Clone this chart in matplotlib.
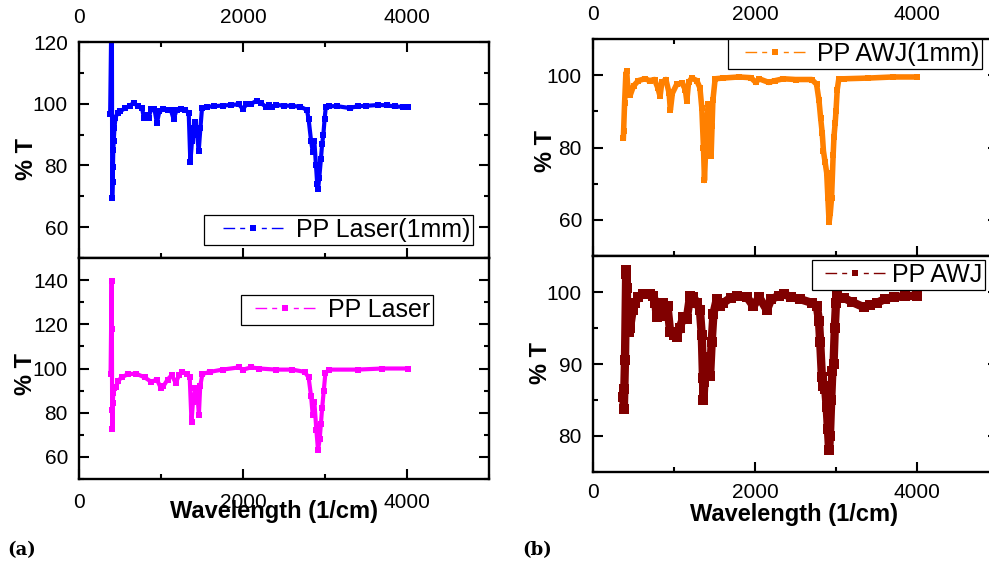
import matplotlib
matplotlib.use('Agg')
import matplotlib.pyplot as plt
from matplotlib.lines import Line2D
from matplotlib.legend_handler import HandlerLine2D
from matplotlib.ticker import MultipleLocator

plt.rcParams['font.family'] = ['Liberation Sans', 'DejaVu Sans']
plt.rcParams['lines.scale_dashes'] = False

# ---------------- data ----------------
laser1_wn = [380, 400, 405, 410, 414, 418, 424, 432, 445, 470, 500, 560, 620, 665, 720, 770, 790, 820, 848,
             880, 920, 950, 980, 1030, 1080, 1120, 1154, 1190, 1240, 1297, 1338, 1358, 1378, 1399, 1420, 1440,
             1460, 1480, 1500, 1562, 1650, 1750, 1850, 1950, 2000, 2040, 2100, 2170, 2220, 2280, 2320, 2350,
             2400, 2500, 2600, 2700, 2780, 2800, 2830, 2850, 2870, 2890, 2905, 2915, 2930, 2950, 2965, 2980,
             2995, 3010, 3050, 3150, 3300, 3400, 3500, 3650, 3750, 3850, 3950, 4010]
laser1_T = [96.8, 140, 69.5, 74.5, 79.5, 85, 88, 92, 95.5, 97, 97.5, 98.5, 99.3, 100.3, 99.2, 98.5, 95.5, 96.5, 95.5,
            98.2, 98.3, 93.7, 97.5, 98.2, 98, 98, 95, 98, 98.3, 98, 97, 81, 88, 92, 94, 90,
            84.7, 92, 98.5, 99, 99.2, 99.4, 99.6, 99.8, 98.2, 99.8, 100, 101, 100.2, 99, 99.6, 99,
            99.6, 99.4, 99.3, 99, 98, 95, 88, 84.5, 88, 80, 74, 72.2, 76, 82, 87, 90,
            95, 99, 99.2, 99.2, 98.6, 99.2, 99.3, 99.6, 99.5, 99.1, 99, 99]

laser_wn = [385, 398, 401, 404, 408, 412, 418, 430, 450, 480, 520, 600, 700, 800, 880, 950, 1000, 1030, 1080,
            1130, 1180, 1220, 1260, 1320, 1350, 1372, 1390, 1420, 1445, 1462, 1478, 1505, 1600, 1750, 1950,
            2000, 2100, 2200, 2400, 2600, 2750, 2800, 2830, 2850, 2870, 2895, 2915, 2935, 2950, 2965, 2985,
            3005, 3050, 3400, 3700, 4010]
laser_T = [97.4, 139.5, 118, 81.4, 72.6, 84.5, 89, 91, 91.5, 94.5, 96, 97.5, 97.6, 96, 94, 95, 91, 92, 95,
           97, 93.5, 97, 98.5, 97.5, 96, 76, 85, 91, 88, 79, 92, 97.5, 98.5, 99.5, 100.5,
           99.5, 100.5, 100, 99.5, 99.5, 98.5, 96, 87.5, 79, 85, 72, 63, 68, 75, 82, 90,
           98, 99.5, 99.5, 100, 100]

awj1_wn = [375, 378, 390, 405, 416, 425, 437, 460, 500, 560, 640, 700, 760, 800, 828, 850, 900, 940, 955, 980,
           1034, 1100, 1140, 1158, 1180, 1219, 1281, 1320, 1343, 1364, 1376, 1392, 1405, 1425, 1440, 1458,
           1470, 1480, 1508, 1600, 1800, 1950, 2010, 2050, 2170, 2250, 2350, 2500, 2700, 2760, 2790, 2810,
           2830, 2845, 2865, 2885, 2900, 2915, 2930, 2945, 2955, 2965, 2975, 2990, 3000, 3015, 3035, 3100,
           3400, 3700, 4000]
awj1_T = [82.7, 84.6, 92.3, 100, 101.2, 98, 96, 94.5, 97, 98.5, 99, 98.5, 98.8, 96.5, 94.2, 98, 98.8, 95, 90.3, 95,
          97.5, 97.8, 96, 92.8, 98, 99.2, 98.5, 96.5, 91, 80, 70.9, 80, 87, 92, 83, 77.7,
          86, 93, 99, 99.2, 99.5, 99.3, 98, 99, 98, 98.5, 99, 98.8, 98.8, 97.5, 93, 88.2,
          84, 79, 76, 73, 66, 59.3, 62, 66, 72, 78, 83, 86.8, 90, 96, 99, 99,
          99.2, 99.5, 99.5]

awj_wn = [375, 378, 381, 395, 410, 413, 418, 424, 440, 457, 490, 519, 560, 622, 700, 746, 770, 787, 830, 869,
          920, 952, 1000, 1034, 1070, 1116, 1158, 1199, 1240, 1281, 1320, 1343, 1358, 1364, 1375, 1390, 1413,
          1430, 1446, 1465, 1487, 1528, 1570, 1610, 1700, 1775, 1900, 1981, 2050, 2146, 2200, 2300, 2352,
          2450, 2558, 2700, 2764, 2790, 2805, 2826, 2845, 2867, 2885, 2900, 2915, 2925, 2941, 2955, 2970,
          2985, 3000, 3011, 3094, 3200, 3341, 3420, 3506, 3600, 3712, 3850, 4000]
awj_T = [85.4, 86.5, 83.8, 90.6, 103, 102.5, 100.5, 95.1, 94.5, 95, 97.5, 98.5, 99.3, 99.7, 99.7, 99.5, 98.5, 96.5,
         96.6, 98.5, 98, 94.5, 94, 93.8, 95, 96.5, 96.3, 99.5, 99.3, 98.5, 97.5, 94, 88, 85, 87.5, 90, 91,
         89, 88.4, 93, 97, 99, 98, 98.5, 99.2, 99.5, 99.3, 98, 99.3, 97.5, 99, 99.5, 99.7,
         99.3, 99, 98.5, 98, 96, 93, 88.2, 87, 86.5, 84, 81, 78, 80, 85, 89, 90,
         95, 98.5, 99.5, 99.2, 98.6, 97.9, 98.2, 98.5, 99, 99.3, 99.4, 99.5]

x_ticks = [0, 2000, 4000]
labels = ['PP Laser(1mm)', 'PP Laser', 'PP AWJ(1mm)', 'PP AWJ']
colors = ['#0000ff', '#ff00ff', '#ff8000', '#800000']

# ---------------- figure ----------------
W, H = 989, 567
fig = plt.figure(figsize=(W / 100, H / 100), dpi=100)


def px_axes(l, t, r, b):
    return fig.add_axes([l / W, 1 - b / H, (r - l) / W, (b - t) / H])


def style(ax, ylim, ymaj, ymin, top, xpad=11):
    ax.set_xlim(0, 5000)
    ax.set_ylim(*ylim)
    ax.set_xticks(x_ticks)
    ax.xaxis.set_minor_locator(MultipleLocator(1000))
    ax.yaxis.set_major_locator(MultipleLocator(ymaj))
    ax.yaxis.set_minor_locator(MultipleLocator(ymin))
    ax.tick_params(which='both', direction='in', left=True, right=True,
                   top=top, bottom=True, width=1.5, color='black')
    ax.tick_params(which='major', length=7)
    ax.tick_params(which='minor', length=3.5)
    ax.tick_params(axis='y', labelsize=15, pad=8)
    ax.tick_params(axis='x', labelsize=15, pad=xpad, labeltop=top, labelbottom=not top)
    for s in ax.spines.values():
        s.set_linewidth(1.7)


def legend(ax, color, label, ms, x, y, xpad, tpad):
    h = Line2D([], [], color=color, lw=1.0,
               linestyle=(0, (8.4, 3.6, 3.6, 12, 3.6, 3.6, 8.4, 40)),
               marker='s', markersize=ms, markeredgewidth=0)
    leg = ax.legend([h], [label], loc='upper left', bbox_to_anchor=(x / W, 1 - y / H),
                    bbox_transform=fig.transFigure, borderaxespad=0, borderpad=0.12,
                    fontsize=18, handlelength=2.4 + xpad, handletextpad=tpad,
                    handler_map={h: HandlerLine2D(numpoints=1, xpad=xpad)},
                    fancybox=False, framealpha=1, edgecolor='black')
    leg.get_frame().set_linewidth(0.9)
    return leg


ax1 = px_axes(79, 42, 489, 258)
ax2 = px_axes(79, 258, 489, 479)
ax3 = px_axes(593, 39, 998, 256)
ax4 = px_axes(593, 256, 998, 472)

ax1.plot(laser1_wn, laser1_T, color=colors[0], lw=3.0, marker='s', ms=4, mew=0)
ax2.plot(laser_wn, laser_T, color=colors[1], lw=3.0, marker='s', ms=4, mew=0)
ax3.plot(awj1_wn, awj1_T, color=colors[2], lw=4.0, marker='s', ms=5, mew=0)
ax4.plot(awj_wn, awj_T, color=colors[3], lw=6.0, marker='s', ms=7, mew=0)

style(ax1, (50, 120), 20, 10, True)
style(ax2, (50, 150), 20, 10, False, xpad=10)
style(ax3, (50, 110), 20, 10, True)
style(ax4, (75, 105), 10, 5, False, xpad=8)

for ax, (lx, ly) in zip([ax1, ax2, ax3, ax4],
                        [(-0.100, 0.458), (-0.102, 0.475), (-0.089, 0.484), (-0.101, 0.505)]):
    ax.set_ylabel('% T', fontsize=17, fontweight='bold')
    ax.yaxis.set_label_coords(lx, ly)

ax2.set_xlabel('Wavelength (1/cm)', fontsize=17, fontweight='bold')
ax2.xaxis.set_label_coords(0.4756, -0.095)
ax4.set_xlabel('Wavelength (1/cm)', fontsize=17, fontweight='bold')
ax4.xaxis.set_label_coords(0.496, -0.145)

legend(ax1, colors[0], labels[0], 4, 204, 215, 0.64, 0.52)
legend(ax2, colors[1], labels[1], 4, 241, 295, 0.44, 0.52)
legend(ax3, colors[2], labels[2], 4, 728, 39, 0.56, 0.48)
legend(ax4, colors[3], labels[3], 5, 812, 260, 0.40, 0.28)

fig.text(7 / W, 1 - 550 / H, '(a)', ha='left', va='center', fontsize=13,
         fontweight='bold', family='DejaVu Serif')
fig.text(522 / W, 1 - 550 / H, '(b)', ha='left', va='center', fontsize=13,
         fontweight='bold', family='DejaVu Serif')

fig.savefig('out.png', dpi=100)
